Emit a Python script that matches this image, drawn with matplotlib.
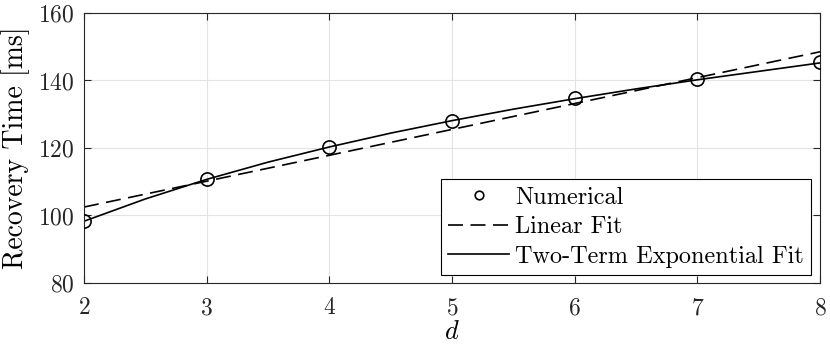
import matplotlib
matplotlib.use("Agg")
import matplotlib.pyplot as plt

plt.rcParams['font.family'] = 'serif'
plt.rcParams['font.serif'] = ['cmr10', 'DejaVu Serif']
plt.rcParams['mathtext.fontset'] = 'cm'
plt.rcParams['axes.formatter.use_mathtext'] = True

# numerical results
d_num = [2, 3, 4, 5, 6, 7, 8]
t_num = [98.3, 110.9, 120.3, 127.9, 134.7, 140.5, 145.5]

# linear fit (end points)
d_lin = [2, 8]
t_lin = [102.5, 148.5]

# two-term exponential fit, sampled from the chart
d_exp = [2, 2.5, 3, 3.5, 4, 4.5, 5, 5.5, 6, 6.5, 7, 7.5, 8]
t_exp = [98.3, 104.9, 110.7, 115.8, 120.3, 124.4, 128.1, 131.5, 134.6, 137.5, 140.2, 142.7, 145.2]

fig = plt.figure(figsize=(8.3, 3.5), dpi=100)
ax = fig.add_axes([0.1012, 0.1914, 0.8868, 0.7716])

ax.plot(d_num, t_num, linestyle='none', marker='o', markersize=9.5,
        markerfacecolor='none', markeredgecolor='black', markeredgewidth=1.2,
        label='Numerical', zorder=4)
ax.plot(d_lin, t_lin, color='black', linestyle=(0, (9, 4.5)), linewidth=1.2,
        label='Linear Fit')
ax.plot(d_exp, t_exp, color='black', linewidth=1.2,
        label='Two-Term Exponential Fit')

ax.set_xlim(2, 8)
ax.set_ylim(80, 160)
ax.set_xticks(range(2, 9))
ax.set_yticks([80, 100, 120, 140, 160])
ax.grid(True, color='#e3e3e3', linewidth=0.8)
ax.set_axisbelow(True)
ax.tick_params(direction='in', top=True, right=True, labelsize=17,
               color='#262626', labelcolor='#262626', length=5)
ax.tick_params(axis='x', pad=10)
ax.tick_params(axis='y', pad=7)
for s in ax.spines.values():
    s.set_color('#262626')
    s.set_linewidth(0.8)

ax.set_xlabel('$d$', fontsize=19, labelpad=1)
ax.set_ylabel('Recovery Time [ms]', fontsize=20, labelpad=6)

leg = ax.legend(loc='lower right', bbox_to_anchor=(0.9878, 0.0296), fontsize=17.5,
                fancybox=False, edgecolor='black', framealpha=1,
                borderaxespad=0, markerscale=0.65,
                handlelength=2.5, borderpad=0.3, labelspacing=0.3,
                handletextpad=0.25)
leg.get_frame().set_linewidth(0.8)

fig.savefig('out.png', dpi=100)
